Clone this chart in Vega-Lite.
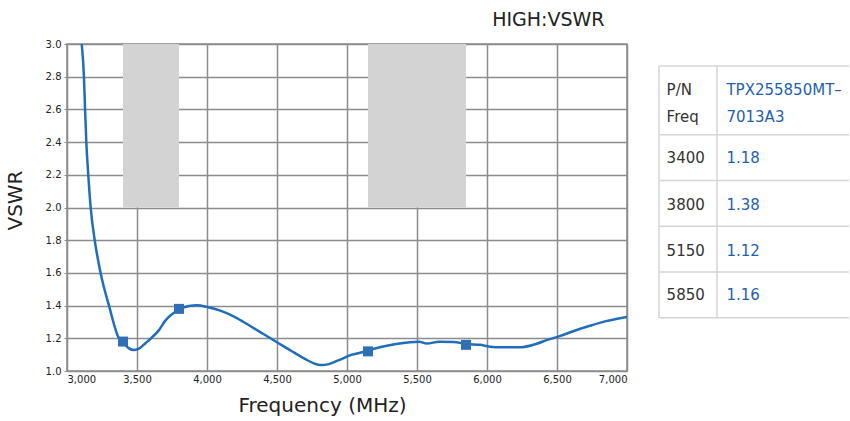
{
  "$schema": "https://vega.github.io/schema/vega-lite/v6.json",
  "padding": {"left": 4, "top": 10, "right": 0, "bottom": 5},
  "background": "white",
  "config": {
    "font": "DejaVu Sans",
    "view": {"stroke": "#8a8a8a", "strokeWidth": 1.5},
    "axis": {"gridColor": "#8c8c8c", "gridWidth": 1.5, "gridOpacity": 1, "domain": false, "labelColor": "#222", "labelFontSize": 10, "titleFontWeight": "normal", "titleColor": "#222", "titleFontSize": 20, "tickColor": "#8c8c8c"}
  },
  "datasets": {
    "curve": [
      {"f": 3092, "v": 3.1}, {"f": 3105, "v": 3.0}, {"f": 3121, "v": 2.8}, {"f": 3129, "v": 2.6}, {"f": 3138, "v": 2.4},
      {"f": 3152, "v": 2.2}, {"f": 3169, "v": 2.0}, {"f": 3198, "v": 1.8}, {"f": 3240, "v": 1.6}, {"f": 3300, "v": 1.4},
      {"f": 3371, "v": 1.2}, {"f": 3400, "v": 1.175}, {"f": 3440, "v": 1.14}, {"f": 3480, "v": 1.128}, {"f": 3520, "v": 1.14},
      {"f": 3560, "v": 1.17}, {"f": 3600, "v": 1.2}, {"f": 3657, "v": 1.25}, {"f": 3700, "v": 1.305}, {"f": 3800, "v": 1.375},
      {"f": 3870, "v": 1.398}, {"f": 3930, "v": 1.402}, {"f": 4000, "v": 1.392}, {"f": 4100, "v": 1.368}, {"f": 4200, "v": 1.33},
      {"f": 4300, "v": 1.28}, {"f": 4400, "v": 1.228}, {"f": 4500, "v": 1.176}, {"f": 4600, "v": 1.124}, {"f": 4700, "v": 1.074},
      {"f": 4760, "v": 1.048}, {"f": 4814, "v": 1.036}, {"f": 4870, "v": 1.042}, {"f": 4943, "v": 1.067}, {"f": 5036, "v": 1.1},
      {"f": 5100, "v": 1.113}, {"f": 5157, "v": 1.128}, {"f": 5250, "v": 1.148}, {"f": 5350, "v": 1.165}, {"f": 5450, "v": 1.176},
      {"f": 5514, "v": 1.179}, {"f": 5571, "v": 1.168}, {"f": 5657, "v": 1.179}, {"f": 5760, "v": 1.177}, {"f": 5857, "v": 1.165},
      {"f": 5950, "v": 1.16}, {"f": 6020, "v": 1.149}, {"f": 6107, "v": 1.145}, {"f": 6250, "v": 1.146}, {"f": 6350, "v": 1.165},
      {"f": 6430, "v": 1.19}, {"f": 6514, "v": 1.212}, {"f": 6620, "v": 1.245}, {"f": 6729, "v": 1.275}, {"f": 6850, "v": 1.305},
      {"f": 6930, "v": 1.32}, {"f": 7000, "v": 1.33}
    ],
    "markers": [
      {"f": 3400, "v": 1.18}, {"f": 3800, "v": 1.38}, {"f": 5150, "v": 1.12}, {"f": 5850, "v": 1.16}
    ],
    "bands": [
      {"f": 3400, "b": 3800, "v": 2.0, "hi": 3.0},
      {"f": 5150, "b": 5850, "v": 2.0, "hi": 3.0}
    ],
    "hlines": [
      {"y": 0, "x1": 0, "x2": 1}, {"y": 1.5, "x1": 0, "x2": 1}, {"y": 2.5, "x1": 0, "x2": 1},
      {"y": 3.5, "x1": 0, "x2": 1}, {"y": 4.5, "x1": 0, "x2": 1}, {"y": 5.5, "x1": 0, "x2": 1}
    ],
    "vlines": [
      {"x": 0, "y1": 0, "y2": 5.5}, {"x": 0.305, "y1": 0, "y2": 5.5}
    ],
    "cells": [
      {"c": 0.04, "r": 0.52, "t": "P/N", "k": "head"},
      {"c": 0.04, "r": 1.11, "t": "Freq", "k": "head"},
      {"c": 0.355, "r": 0.52, "t": "TPX255850MT–", "k": "val"},
      {"c": 0.355, "r": 1.11, "t": "7013A3", "k": "val"},
      {"c": 0.04, "r": 2.02, "t": "3400", "k": "head"},
      {"c": 0.355, "r": 2.02, "t": "1.18", "k": "val"},
      {"c": 0.04, "r": 3.04, "t": "3800", "k": "head"},
      {"c": 0.355, "r": 3.04, "t": "1.38", "k": "val"},
      {"c": 0.04, "r": 4.04, "t": "5150", "k": "head"},
      {"c": 0.355, "r": 4.04, "t": "1.12", "k": "val"},
      {"c": 0.04, "r": 5.0, "t": "5850", "k": "head"},
      {"c": 0.355, "r": 5.0, "t": "1.16", "k": "val"}
    ]
  },
  "hconcat": [
    {
      "width": 560,
      "height": 327,
      "title": {"text": "HIGH:VSWR", "anchor": "end", "dx": -23, "fontSize": 19, "fontWeight": "normal", "color": "#222", "offset": 9},
      "encoding": {
        "x": {"field": "f", "type": "quantitative", "scale": {"domain": [3000, 7000], "nice": false}, "axis": {"values": [3000, 3500, 4000, 4500, 5000, 5500, 6000, 6500, 7000], "format": ",.0f", "title": "Frequency (MHz)", "labelPadding": 3, "tickSize": 0, "titlePadding": 11, "titleX": 255}},
        "y": {"field": "v", "type": "quantitative", "scale": {"domain": [1, 3], "nice": false}, "axis": {"values": [1.0, 1.2, 1.4, 1.6, 1.8, 2.0, 2.2, 2.4, 2.6, 2.8, 3.0], "format": ".1f", "title": "VSWR", "labelPadding": 3, "tickSize": 3, "titlePadding": 20, "titleY": 156}}
      },
      "layer": [
        {
          "data": {"name": "bands"},
          "mark": {"type": "rect", "color": "#d3d3d3"},
          "encoding": {
            "x2": {"field": "b"},
            "y2": {"field": "hi"}
          }
        },
        {
          "data": {"name": "curve"},
          "mark": {"type": "line", "color": "#1f6dbb", "strokeWidth": 2.5, "interpolate": "monotone", "clip": true}
        },
        {
          "data": {"name": "markers"},
          "mark": {"type": "point", "shape": "square", "filled": true, "color": "#2e6fb5", "size": 100, "opacity": 1}
        }
      ]
    },
    {
      "width": 190,
      "height": 327,
      "view": {"stroke": null},
      "layer": [
        {
          "data": {"name": "hlines"},
          "mark": {"type": "rule", "color": "#d6d6d6", "strokeWidth": 1.5},
          "encoding": {
            "y": {"field": "y", "type": "quantitative", "scale": {"domain": [-0.48, 6.66], "nice": false, "zero": false, "reverse": true}, "axis": null},
            "x": {"field": "x1", "type": "quantitative", "scale": {"domain": [0, 1], "nice": false}, "axis": null},
            "x2": {"field": "x2"}
          }
        },
        {
          "data": {"name": "vlines"},
          "mark": {"type": "rule", "color": "#d6d6d6", "strokeWidth": 1.5},
          "encoding": {
            "x": {"field": "x", "type": "quantitative"},
            "y": {"field": "y1", "type": "quantitative"},
            "y2": {"field": "y2"}
          }
        },
        {
          "data": {"name": "cells"},
          "mark": {"type": "text", "align": "left", "baseline": "middle", "fontSize": 15},
          "encoding": {
            "x": {"field": "c", "type": "quantitative"},
            "y": {"field": "r", "type": "quantitative"},
            "text": {"field": "t"},
            "color": {"field": "k", "type": "nominal", "scale": {"domain": ["head", "val"], "range": ["#333333", "#1f5fb0"]}, "legend": null}
          }
        }
      ]
    }
  ],
  "spacing": 32,
  "bounds": "flush"
}
